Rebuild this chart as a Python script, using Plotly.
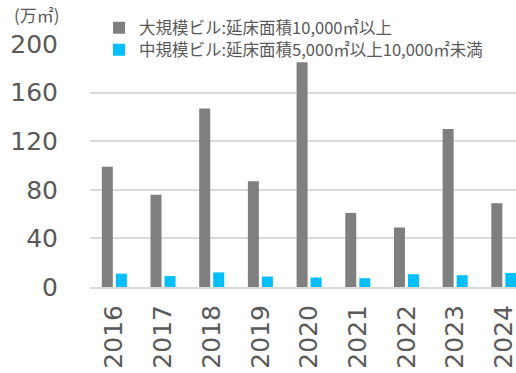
import plotly.graph_objects as go

# Annual new office supply in central Tokyo (unit: 10,000 m²)
years = ["2016", "2017", "2018", "2019", "2020", "2021", "2022", "2023", "2024"]
large_bldg = [99, 76, 147, 87, 185, 61, 49, 130, 69]
mid_bldg = [11, 9, 12, 8.6, 7.8, 7.2, 10.5, 9.7, 11.6]

large_name = "大規模ビル:延床面積10,000㎡以上"
mid_name = "中規模ビル:延床面積5,000㎡以上10,000㎡未満"

text_color = "#595959"
grid_color = "#D9D9D9"

W, H = 516, 373
L, R, T, B = 90, 0, 44, 86
plot_w, plot_h = W - L - R, H - T - B

fig = go.Figure()
fig.add_trace(go.Bar(
    x=list(range(len(years))), y=large_bldg, name=large_name,
    marker=dict(color="#7F7F7F", line=dict(width=0)),
    width=0.226, offset=-0.257, legend="legend",
))
fig.add_trace(go.Bar(
    x=list(range(len(years))), y=mid_bldg, name=mid_name,
    marker=dict(color="#00BFFF", line=dict(width=0)),
    width=0.226, offset=0.031, legend="legend2",
))

legend_common = dict(
    xref="container", yref="container", xanchor="left", yanchor="middle",
    font=dict(family="Noto Sans CJK JP", size=16.5, color=text_color),
    bgcolor="rgba(0,0,0,0)", itemwidth=30,
)

fig.update_layout(
    width=W, height=H,
    margin=dict(l=L, r=R, t=T, b=B, autoexpand=False),
    paper_bgcolor="white", plot_bgcolor="white",
    font=dict(family="DejaVu Sans", color=text_color),
    barmode="overlay",
    showlegend=True,
    legend=dict(x=99 / W, y=1 - 28 / H, **legend_common),
    legend2=dict(x=99 / W, y=1 - 50 / H, **legend_common),
    xaxis=dict(
        tickmode="array", tickvals=list(range(len(years))), ticktext=years,
        range=[-0.5, 8.25], tickangle=-90, automargin=False,
        tickfont=dict(size=25, color=text_color),
        showgrid=False, showline=True, linecolor=grid_color, linewidth=2,
        ticks="", ticklabelstandoff=6, ticklabeloverflow="allow",
        zeroline=False,
    ),
    yaxis=dict(
        range=[0, 200], tickvals=[0, 40, 80, 120, 160, 200], automargin=False,
        tickfont=dict(size=25, color=text_color),
        showgrid=True, gridcolor=grid_color, gridwidth=1.5,
        zeroline=False, showline=False, ticks="", ticklabelstandoff=31,
    ),
    annotations=[dict(
        text="(万㎡)", xref="paper", yref="paper",
        x=(12 - L) / plot_w, y=1 + (T - 14.5) / plot_h,
        xanchor="left", yanchor="middle", showarrow=False,
        font=dict(family="Noto Sans CJK JP", size=17, color=text_color),
    )],
)

fig.write_html("out.html")
